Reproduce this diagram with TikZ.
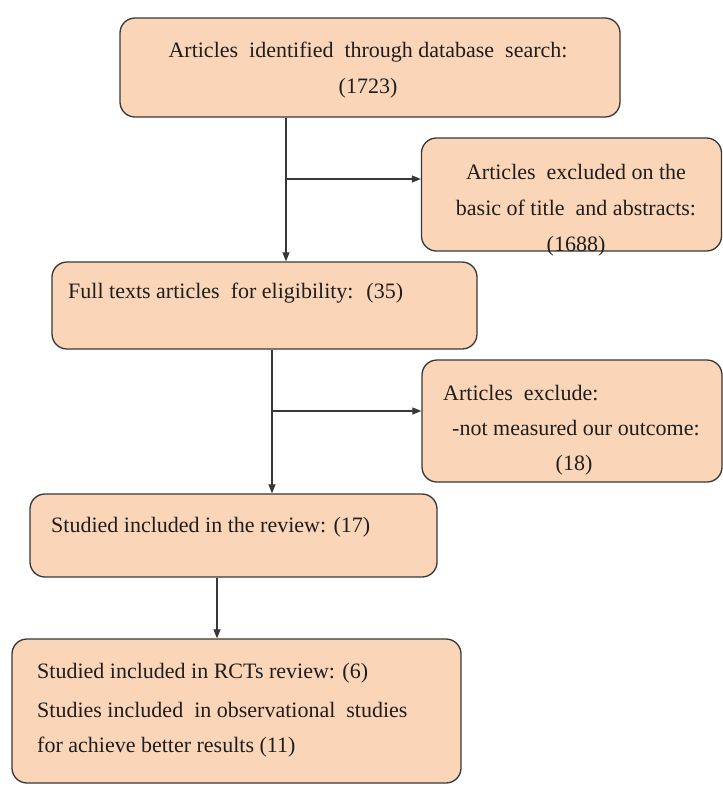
\documentclass[tikz,border=0pt]{standalone}
\usepackage{fontspec}
\setmainfont{Liberation Serif}
\newfontfamily\refserif{Liberation Serif}
\usetikzlibrary{arrows.meta,calc}
\definecolor{boxfill}{RGB}{251,213,183}
\definecolor{boxline}{RGB}{55,55,55}
\definecolor{txt}{RGB}{30,30,30}
\tikzset{
  flowbox/.style={draw=boxline, line width=1.3pt, fill=boxfill, rounded corners=15pt, inner sep=0pt},
  boxtext/.style={inner sep=0pt, text=txt, font=\refserif\fontsize{22}{24}\selectfont},
  conn/.style={draw=boxline, line width=1.2pt},
  arr/.style={conn, -{Triangle[length=9pt,width=7pt]}}
}
\begin{document}
\begin{tikzpicture}[x=1pt,y=-1pt]
\useasboundingbox (0,0) rectangle (723,788);
% boxes
\node[flowbox, minimum width=500pt, minimum height=99pt] (b1) at (370,67.5) {};
\node[flowbox, minimum width=300pt, minimum height=113pt] (b2) at (571.5,194.5) {};
\node[flowbox, minimum width=425pt, minimum height=87pt] (b3) at (264.5,305.5) {};
\node[flowbox, minimum width=300pt, minimum height=122pt] (b4) at (572,421) {};
\node[flowbox, minimum width=407pt, minimum height=83pt] (b5) at (233.5,535.5) {};
\node[flowbox, minimum width=449pt, minimum height=144pt] (b6) at (236.5,711) {};
% texts
\node[boxtext] (t1a) at (368,52) {Articles \ identified \ through database \ search:};
\node[boxtext] (t1b) at (368,88) {(1723)};
\node[boxtext] (t2a) at (576,172) {Articles \ excluded on the};
\node[boxtext] (t2b) at (576,208) {basic of title \ and abstracts:};
\node[boxtext] (t2c) at (576,246) {(1688)};
\node[boxtext, anchor=west] (t3) at (68,293) {Full texts articles \ for eligibility: \ (35)};
\node[boxtext, anchor=west] (t4a) at (443,393) {Articles \ exclude:};
\node[boxtext, anchor=west] (t4b) at (452,428) {-not measured our outcome:};
\node[boxtext] (t4c) at (574,465) {(18)};
\node[boxtext, anchor=west] (t5) at (51,527) {Studied included in the review: (17)};
\node[boxtext, anchor=west] (t6a) at (37,673) {Studied included in RCTs review: (6)};
\node[boxtext, anchor=west] (t6b) at (37,710) {Studies included \ in observational \ studies};
\node[boxtext, anchor=west] (t6c) at (37,747) {for achieve better results (11)};
% connectors
\coordinate (j1) at (286,179);
\coordinate (j2) at (272,411);
\coordinate (j3) at (217,600);
\draw[arr] (b1.south -| j1) -- (b3.north -| j1);
\draw[arr] (j1) -- (j1 -| b2.west);
\draw[arr] (b3.south -| j2) -- (b5.north -| j2);
\draw[arr] (j2) -- (j2 -| b4.west);
\draw[arr] (b5.south -| j3) -- (b6.north -| j3);
\end{tikzpicture}
\end{document}
